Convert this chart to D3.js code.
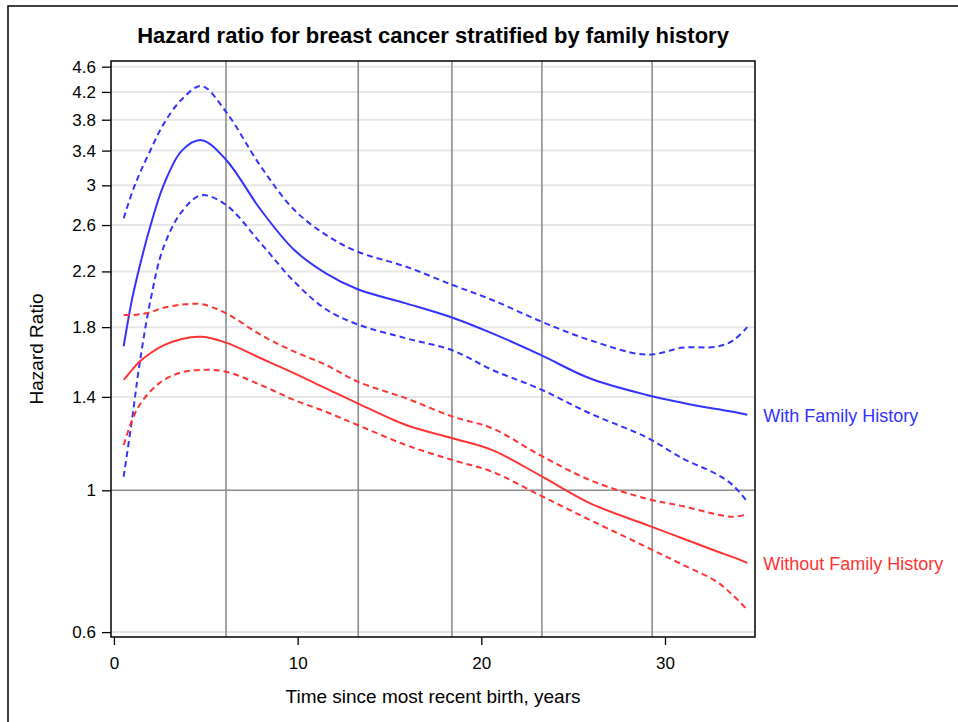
<!DOCTYPE html>
<html><head><meta charset="utf-8">
<script src="https://cdn.jsdelivr.net/npm/d3@7"></script>
<style>
body{margin:0;background:#fff}
svg{display:block}
text{font-family:"Liberation Sans",Arial,sans-serif}
</style>
</head><body>
<svg id="c" width="958" height="722"></svg>
<script>
// ---- data ----
const time = [0.53, 1.0, 1.4, 2.0, 2.7, 3.7, 4.77, 6.1, 8.0, 9.82, 11.54, 13.27, 15.9, 18.44, 20.6, 23.2, 25.9, 29.0, 31.0, 32.8, 33.7, 34.48];
const withEst   = [1.68, 2.0, 2.24, 2.6, 3.0, 3.4, 3.53, 3.29, 2.745, 2.376, 2.185, 2.063, 1.961, 1.862, 1.76, 1.63, 1.497, 1.41, 1.37, 1.34, 1.327, 1.313];
const withUpper = [2.664, 2.93, 3.13, 3.41, 3.74, 4.09, 4.29, 3.91, 3.209, 2.745, 2.51, 2.362, 2.238, 2.095, 1.985, 1.84, 1.718, 1.63, 1.672, 1.677, 1.715, 1.80];
const withLower = [1.05, 1.30, 1.58, 1.99, 2.40, 2.73, 2.895, 2.795, 2.434, 2.12, 1.92, 1.818, 1.729, 1.655, 1.543, 1.44, 1.32, 1.21, 1.12, 1.06, 1.018, 0.96];
const withoutEst   = [1.488, 1.545, 1.59, 1.64, 1.685, 1.725, 1.738, 1.702, 1.609, 1.524, 1.444, 1.368, 1.265, 1.206, 1.156, 1.055, 0.955, 0.883, 0.84, 0.803, 0.786, 0.770];
const withoutUpper = [1.88, 1.88, 1.885, 1.90, 1.93, 1.952, 1.955, 1.892, 1.75, 1.648, 1.571, 1.479, 1.393, 1.304, 1.25, 1.135, 1.038, 0.97, 0.944, 0.917, 0.909, 0.917];
const withoutLower = [1.177, 1.29, 1.36, 1.43, 1.487, 1.53, 1.543, 1.533, 1.461, 1.384, 1.327, 1.265, 1.177, 1.115, 1.069, 0.982, 0.899, 0.815, 0.764, 0.72, 0.685, 0.65];
const knots = [6.1, 13.3, 18.4, 23.3, 29.3];
const yTicks = [0.6, 1, 1.4, 1.8, 2.2, 2.6, 3, 3.4, 3.8, 4.2, 4.6];
const xTicks = [0, 10, 20, 30];
const seriesNames = ["With Family History", "Without Family History"];
const titleText = "Hazard ratio for breast cancer stratified by family history";
const xLabel = "Time since most recent birth, years";
const yLabel = "Hazard Ratio";

// ---- layout ----
const L = 111, R = 755, T = 61, B = 637;
const BLUE = "#3333ff", RED = "#ff3333";

const svg = d3.select("#c");
const x = d3.scaleLinear().domain([-0.16, 34.9]).range([L, R]);
const y = d3.scaleLog().domain([0.5895, 4.695]).range([B, T]);

// outer border
svg.append("rect").attr("x", 8).attr("y", 6).attr("width", 970).attr("height", 740)
  .attr("fill", "none").attr("stroke", "#000").attr("stroke-width", 1.5);

// title
svg.append("text").attr("x", (L + R) / 2).attr("y", 43).attr("text-anchor", "middle")
  .attr("font-size", 22).attr("font-weight", "bold").text(titleText);

// horizontal gridlines
svg.append("g").selectAll("line").data(yTicks.filter(d => d !== 1)).join("line")
  .attr("x1", L).attr("x2", R).attr("y1", d => y(d)).attr("y2", d => y(d))
  .attr("stroke", "#e6e6e6").attr("stroke-width", 2);

// knot lines
svg.append("g").selectAll("line").data(knots).join("line")
  .attr("x1", d => x(d)).attr("x2", d => x(d)).attr("y1", T).attr("y2", B)
  .attr("stroke", "#8c8c8c").attr("stroke-width", 1.6);

// reference line at 1
svg.append("line").attr("x1", L).attr("x2", R).attr("y1", y(1)).attr("y2", y(1))
  .attr("stroke", "#8c8c8c").attr("stroke-width", 1.6);

// curves
const line = d3.line().x((d, i) => x(time[i])).y(d => y(d)).curve(d3.curveCatmullRom.alpha(0.5));
const curves = [
  {v: withUpper, c: BLUE, dash: "6,4"},
  {v: withLower, c: BLUE, dash: "6,4"},
  {v: withEst, c: BLUE, dash: null},
  {v: withoutUpper, c: RED, dash: "6,4"},
  {v: withoutLower, c: RED, dash: "6,4"},
  {v: withoutEst, c: RED, dash: null}
];
svg.append("g").selectAll("path").data(curves).join("path")
  .attr("d", d => line(d.v)).attr("fill", "none").attr("stroke", d => d.c)
  .attr("stroke-width", 2).attr("stroke-dasharray", d => d.dash);

// frame
svg.append("rect").attr("x", L).attr("y", T).attr("width", R - L).attr("height", B - T)
  .attr("fill", "none").attr("stroke", "#000").attr("stroke-width", 1.5);

// axes
const yAxis = svg.append("g").attr("transform", `translate(${L},0)`)
  .call(d3.axisLeft(y).tickValues(yTicks).tickFormat(d3.format("~g")).tickSize(9).tickPadding(6));
const xAxis = svg.append("g").attr("transform", `translate(0,${B})`)
  .call(d3.axisBottom(x).tickValues(xTicks).tickFormat(d3.format("d")).tickSize(8).tickPadding(12));
[yAxis, xAxis].forEach(a => {
  a.select(".domain").remove();
  a.selectAll(".tick line").attr("stroke", "#000").attr("stroke-width", 1.3);
  a.selectAll(".tick text").attr("fill", "#000").attr("font-size", 17)
    .attr("font-family", "Liberation Sans, Arial, sans-serif");
});

// axis labels
svg.append("text").attr("x", (L + R) / 2).attr("y", 703).attr("text-anchor", "middle")
  .attr("font-size", 19).text(xLabel);
svg.append("text").attr("transform", `translate(43,349) rotate(-90)`).attr("text-anchor", "middle")
  .attr("font-size", 19).text(yLabel);

// curve end labels
const endLabels = [
  {name: seriesNames[0], v: withEst[withEst.length - 1], c: BLUE},
  {name: seriesNames[1], v: withoutEst[withoutEst.length - 1], c: RED}
];
svg.append("g").selectAll("text").data(endLabels).join("text")
  .attr("x", x(time[time.length - 1]) + 16).attr("y", d => y(d.v) + 7)
  .attr("fill", d => d.c).attr("font-size", 18).text(d => d.name);
</script>
</body></html>
